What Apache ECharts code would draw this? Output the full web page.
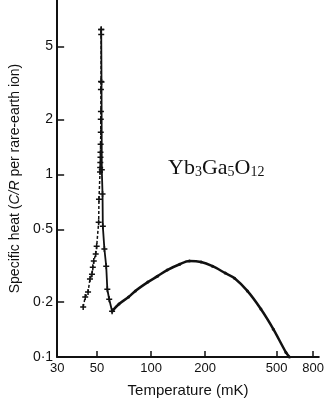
<!DOCTYPE html>
<html>
<head>
<meta charset="utf-8">
<title>Yb3Ga5O12 specific heat</title>
<script src="https://cdn.jsdelivr.net/npm/echarts@6/dist/echarts.min.js"></script>
<style>
    html, body { margin: 0; padding: 0; background: #fff; }
    #chart { width: 327px; height: 414px; }
</style>
</head>
<body>
<div id="chart"></div>
<script>
// 温度 (mK) / 比热 (C/R) —— 低温一侧上升支 (+ 点, 虚线)
var riseT = [41.9, 43.0, 44.6, 45.7, 46.9, 47.4, 48.0, 49.2, 49.8, 51.1, 51.3, 52.0, 52.1, 52.2, 52.3, 52.3, 52.4, 52.5, 52.5, 52.6, 52.6, 52.7, 52.8, 52.8];
var riseC = [0.188, 0.213, 0.227, 0.267, 0.284, 0.310, 0.335, 0.366, 0.404, 0.547, 0.730, 1.03, 1.09, 1.16, 1.24, 1.32, 1.46, 1.70, 2.00, 2.21, 2.91, 3.22, 5.82, 6.20];

// 峰后下降支
var fallT = [52.8, 53.0, 53.2, 53.7, 53.9, 55.0, 56.3, 57.1, 58.5, 60.7];
var fallC = [6.20, 3.20, 1.06, 0.78, 0.52, 0.39, 0.314, 0.235, 0.207, 0.178];

// 宽峰 (Schottky 型)
var humpT = [60.7, 66.3, 75.0, 81.8, 96.0, 108.7, 123, 144.5, 163.6, 190, 220, 259, 292, 344, 409, 480, 564, 590];
var humpC = [0.178, 0.195, 0.213, 0.230, 0.257, 0.277, 0.299, 0.322, 0.335, 0.331, 0.314, 0.288, 0.270, 0.230, 0.183, 0.142, 0.106, 0.100];

// 刻度
var xTicks = [30, 50, 100, 200, 500, 800];
var yTicks = [0.1, 0.2, 0.5, 1, 2, 5];

function pairs(xs, ys) {
    var out = [];
    xs.forEach(function (x, i) { out.push([x, ys[i]]); });
    return out;
}

// "+" 形符号
var plus = 'path://M3,0h2v3h3v2h-3v3h-2v-3h-3v-2h3z';
var ink = '#111';
var font = 'Liberation Sans';

var myChart = echarts.init(document.getElementById('chart'));

myChart.setOption({
    backgroundColor: '#fff',
    animation: false,
    grid: {
        left: 56,
        right: 0,
        top: 0,
        bottom: 57
    },
    title: {
        text: '{n|Yb}{s|3}{n|Ga}{s|5}{n|O}{s|12}',
        left: 163,
        top: 150,
        textStyle: {
            fontWeight: 'normal',
            rich: {
                n: { fontFamily: 'Liberation Serif', fontSize: 22, fontWeight: 'normal', color: ink, lineHeight: 24, verticalAlign: 'bottom' },
                s: { fontFamily: 'Liberation Serif', fontSize: 14, fontWeight: 'normal', color: ink, lineHeight: 10, verticalAlign: 'bottom' }
            }
        }
    },
    xAxis: {
        type: 'log',
        logBase: 10,
        min: 30,
        max: 860,
        name: 'Temperature (mK)',
        nameLocation: 'middle',
        nameGap: 26,
        nameTextStyle: { fontFamily: font, fontSize: 15, color: ink, verticalAlign: 'top' },
        axisLine: { lineStyle: { color: ink, width: 2 } },
        axisTick: { inside: true, length: 6, lineStyle: { color: ink, width: 1.5 }, customValues: xTicks },
        axisLabel: {
            fontFamily: font,
            fontSize: 13,
            color: ink,
            margin: 5,
            customValues: xTicks,
            alignMinLabel: 'center',
            alignMaxLabel: 'center'
        },
        splitLine: { show: false },
        minorTick: { show: false }
    },
    yAxis: {
        type: 'log',
        logBase: 10,
        min: 0.1,
        max: 9,
        name: '{a|Specific heat (}{i|C/R}{a| per rare-earth ion)}',
        nameLocation: 'middle',
        nameGap: 18,
        nameRotate: 90,
        nameTextStyle: {
            rich: {
                a: { fontFamily: font, fontSize: 14, color: ink },
                i: { fontFamily: font, fontSize: 14, color: ink, fontStyle: 'italic' }
            }
        },
        axisLine: { lineStyle: { color: ink, width: 2 } },
        axisTick: { inside: true, length: 7, lineStyle: { color: ink, width: 1.5 }, customValues: yTicks },
        axisLabel: {
            fontFamily: font,
            fontSize: 14,
            color: ink,
            margin: 4,
            customValues: yTicks,
            formatter: function (v) { return String(v).replace('.', '·'); }
        },
        splitLine: { show: false }
    },
    series: [
        {
            name: 'rise',
            type: 'line',
            data: pairs(riseT, riseC),
            symbol: plus,
            symbolSize: 6,
            itemStyle: { color: ink },
            lineStyle: { color: ink, width: 1.5, type: [3, 2] }
        },
        {
            name: 'fall',
            type: 'line',
            data: pairs(fallT, fallC),
            symbol: plus,
            symbolSize: 6,
            itemStyle: { color: ink },
            lineStyle: { color: ink, width: 1.8 }
        },
        {
            name: 'hump',
            type: 'line',
            data: pairs(humpT, humpC),
            smooth: 0.3,
            symbol: 'circle',
            symbolSize: 3,
            itemStyle: { color: ink },
            lineStyle: { color: ink, width: 2.5 }
        }
    ]
});
</script>
</body>
</html>
